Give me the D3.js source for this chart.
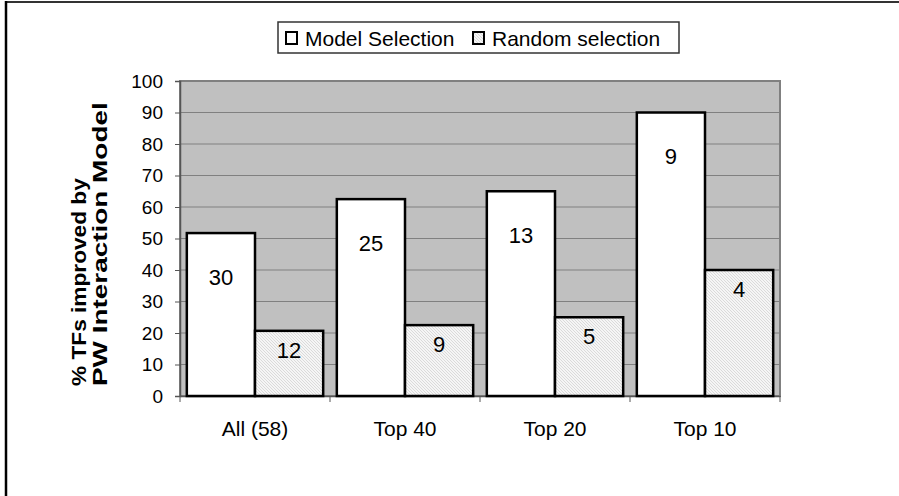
<!DOCTYPE html>
<html>
<head>
<meta charset="utf-8">
<script src="https://cdn.jsdelivr.net/npm/d3@7"></script>
<style>
  html, body { margin: 0; padding: 0; background: #fff; }
  svg { display: block; font-family: Arial, "Liberation Sans", Helvetica, sans-serif; }
</style>
</head>
<body>
<svg id="chart" width="899" height="496"></svg>
<script>
// Groups of transcription factors and how many of each group improved
const categories = ["All (58)", "Top 40", "Top 20", "Top 10"];
const groupSizes = [58, 40, 20, 10];
const modelCounts = [30, 25, 13, 9];
const randomCounts = [12, 9, 5, 4];
const seriesNames = ["Model Selection", "Random selection"];
const yTicks = [0, 10, 20, 30, 40, 50, 60, 70, 80, 90, 100];
const titleLines = ["% TFs improved by", "PW Interaction Model"];

// Percentage of each group that improved, per series
const pct = (counts) => counts.map((c, i) => c / groupSizes[i] * 100);
const series = [
  { name: seriesNames[0], counts: modelCounts, values: pct(modelCounts), fill: "#ffffff", labelDrop: 44 },
  { name: seriesNames[1], counts: randomCounts, values: pct(randomCounts), fill: "url(#hatch)", labelDrop: 19 }
];

const FONT = "Arial, 'Liberation Sans', Helvetica, sans-serif";
const svg = d3.select("#chart");

// Fine diagonal hatch used by the random-selection bars
const defs = svg.append("defs");
const pat = defs.append("pattern")
  .attr("id", "hatch").attr("patternUnits", "userSpaceOnUse")
  .attr("width", 3).attr("height", 3);
pat.append("rect").attr("width", 3).attr("height", 3).attr("fill", "#f5f5f5");
pat.append("path").attr("d", "M-1,-1 L4,4 M-1,2 L1,4 M2,-1 L4,1")
  .attr("stroke", "#cfcfcf").attr("stroke-width", 0.7);

// Outer frame (top and left edges)
svg.append("line").attr("x1", 6).attr("x2", 899).attr("y1", 2).attr("y2", 2)
  .attr("stroke", "#333").attr("stroke-width", 2);
svg.append("line").attr("x1", 6).attr("x2", 6).attr("y1", 1).attr("y2", 496)
  .attr("stroke", "#000").attr("stroke-width", 2.5);

const plot = { left: 180, right: 780, top: 81, bottom: 396 };

const x = d3.scaleBand().domain(categories).range([plot.left, plot.right]).padding(0);
const xs = d3.scaleBand().domain(seriesNames).range([0, x.bandwidth()])
  .paddingInner(0).paddingOuter(0.1);
const y = d3.scaleLinear().domain([0, 100]).range([plot.bottom, plot.top]);

// Plot area background
svg.append("rect")
  .attr("x", plot.left).attr("y", plot.top)
  .attr("width", plot.right - plot.left).attr("height", plot.bottom - plot.top)
  .attr("fill", "#c0c0c0").attr("stroke", "#808080").attr("stroke-width", 2);

// Horizontal gridlines
svg.append("g").selectAll("line")
  .data(yTicks.filter(t => t > 0 && t < 100))
  .join("line")
  .attr("x1", plot.left).attr("x2", plot.right)
  .attr("y1", d => y(d)).attr("y2", d => y(d))
  .attr("stroke", "#808080").attr("stroke-width", 1);

// Y axis
const yAxis = svg.append("g")
  .attr("transform", `translate(${plot.left},0)`)
  .call(d3.axisLeft(y).tickValues(yTicks).tickSize(5).tickPadding(12));
yAxis.select(".domain").attr("stroke", "#555").attr("stroke-width", 1.5);
yAxis.selectAll(".tick line").attr("stroke", "#555");
yAxis.selectAll("text").attr("font-size", 19).attr("fill", "#000").attr("font-family", FONT);

// X axis with ticks on the category boundaries
const xAxis = svg.append("g")
  .attr("transform", `translate(0,${plot.bottom})`)
  .call(d3.axisBottom(x).tickSize(0).tickPadding(25));
xAxis.select(".domain").attr("stroke", "#555").attr("stroke-width", 1.5);
xAxis.selectAll("text").attr("font-size", 21).attr("fill", "#000").attr("font-family", FONT);
svg.append("g").selectAll("line")
  .data(categories.map(c => x(c)).concat([x(categories[categories.length - 1]) + x.bandwidth()]))
  .join("line")
  .attr("x1", d => d).attr("x2", d => d)
  .attr("y1", plot.bottom).attr("y2", plot.bottom + 6)
  .attr("stroke", "#555").attr("stroke-width", 1);

// Bars
const groups = svg.append("g").selectAll("g")
  .data(series).join("g");
groups.selectAll("rect")
  .data(s => s.values.map((v, i) => ({ v, i, s })))
  .join("rect")
  .attr("x", d => x(categories[d.i]) + xs(d.s.name))
  .attr("y", d => y(d.v))
  .attr("width", xs.bandwidth())
  .attr("height", d => y(0) - y(d.v))
  .attr("fill", d => d.s.fill)
  .attr("stroke", "#000").attr("stroke-width", 2.5);

// Count labels inside each bar
groups.selectAll("text")
  .data(s => s.values.map((v, i) => ({ v, i, s })))
  .join("text")
  .attr("x", d => x(categories[d.i]) + xs(d.s.name) + xs.bandwidth() / 2)
  .attr("y", d => y(d.v) + d.s.labelDrop)
  .attr("dy", "0.35em")
  .attr("text-anchor", "middle")
  .attr("font-size", 22)
  .text(d => d.s.counts[d.i]);

// Y axis title: two rotated lines starting near the axis foot
const titleLayout = [
  { baseline: 86, stretch: 1.08 },
  { baseline: 107, stretch: 1.33 }
];
svg.append("g").selectAll("text")
  .data(titleLines)
  .join("text")
  .attr("transform", (d, i) =>
    `translate(${titleLayout[i].baseline},386) rotate(-90) scale(${titleLayout[i].stretch},1)`)
  .attr("text-anchor", "start")
  .attr("font-size", 21).attr("font-weight", "bold")
  .text(d => d);

// Legend
const legend = svg.append("g");
legend.append("rect")
  .attr("x", 278).attr("y", 22).attr("width", 401).attr("height", 31)
  .attr("fill", "#fff").attr("stroke", "#333").attr("stroke-width", 1.5);
const legendX = [286, 473];
series.forEach((s, i) => {
  legend.append("rect")
    .attr("x", legendX[i]).attr("y", 32).attr("width", 11).attr("height", 12)
    .attr("fill", s.fill).attr("stroke", "#000").attr("stroke-width", 2);
  legend.append("text")
    .attr("x", legendX[i] + 19).attr("y", 46)
    .attr("font-size", 21)
    .text(s.name);
});
</script>
</body>
</html>
